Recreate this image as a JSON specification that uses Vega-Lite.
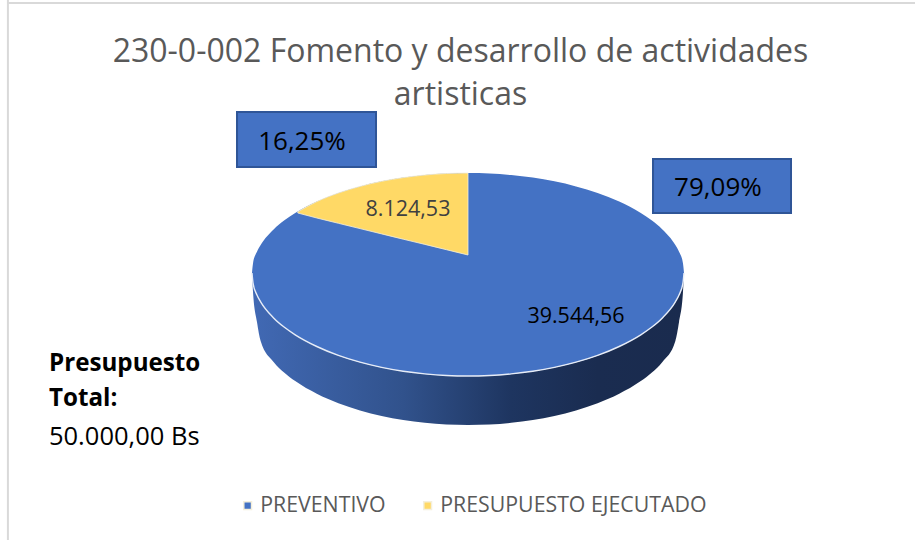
{
"$schema":"https://vega.github.io/schema/vega-lite/v6.json",
"width":915,"height":540,"padding":0,"autosize":{"type":"none"},
"background":"white",
"title":{"text":["230-0-002 Fomento y desarrollo de actividades","artisticas"],"anchor":"middle","dx":3,"offset":-113,"fontSize":32,"font":"Open Sans","fontWeight":"normal","color":"#595959","lineHeight":43},
"config":{"view":{"stroke":null}},
"datasets":{
"marco":[{"elemento":"marco"}],
"perfil":[
{"segmento":"PREVENTIVO","u":-1,"sup":0,"rim":0,"base":0},
{"segmento":"PREVENTIVO","u":-0.995,"sup":0.1,"rim":-0.103,"base":-0.2},
{"segmento":"PREVENTIVO","u":-0.977,"sup":0.213,"rim":-0.22,"base":-0.49},
{"segmento":"PREVENTIVO","u":-0.96,"sup":0.28,"rim":-0.288,"base":-0.68},
{"segmento":"PREVENTIVO","u":-0.9,"sup":0.436,"rim":-0.449,"base":-0.89},
{"segmento":"PREVENTIVO","u":-0.85,"sup":0.527,"rim":-0.543,"base":-0.998},
{"segmento":"PREVENTIVO","u":-0.8,"sup":0.6,"rim":-0.618,"base":-1.081},
{"segmento":"PREVENTIVO","u":-0.7,"sup":0.714,"rim":-0.735,"base":-1.208},
{"segmento":"PREVENTIVO","u":-0.6,"sup":0.8,"rim":-0.824,"base":-1.303},
{"segmento":"PREVENTIVO","u":-0.5,"sup":0.866,"rim":-0.892,"base":-1.375},
{"segmento":"PREVENTIVO","u":-0.4,"sup":0.917,"rim":-0.944,"base":-1.43},
{"segmento":"PREVENTIVO","u":-0.3,"sup":0.954,"rim":-0.983,"base":-1.47},
{"segmento":"PREVENTIVO","u":-0.2,"sup":0.98,"rim":-1.009,"base":-1.498},
{"segmento":"PREVENTIVO","u":-0.1,"sup":0.995,"rim":-1.025,"base":-1.515},
{"segmento":"PREVENTIVO","u":0,"sup":1,"rim":-1.03,"base":-1.52},
{"segmento":"PREVENTIVO","u":0.1,"sup":0.995,"rim":-1.025,"base":-1.515},
{"segmento":"PREVENTIVO","u":0.2,"sup":0.98,"rim":-1.009,"base":-1.498},
{"segmento":"PREVENTIVO","u":0.3,"sup":0.954,"rim":-0.983,"base":-1.47},
{"segmento":"PREVENTIVO","u":0.4,"sup":0.917,"rim":-0.944,"base":-1.43},
{"segmento":"PREVENTIVO","u":0.5,"sup":0.866,"rim":-0.892,"base":-1.375},
{"segmento":"PREVENTIVO","u":0.6,"sup":0.8,"rim":-0.824,"base":-1.303},
{"segmento":"PREVENTIVO","u":0.7,"sup":0.714,"rim":-0.735,"base":-1.208},
{"segmento":"PREVENTIVO","u":0.8,"sup":0.6,"rim":-0.618,"base":-1.081},
{"segmento":"PREVENTIVO","u":0.85,"sup":0.527,"rim":-0.543,"base":-0.998},
{"segmento":"PREVENTIVO","u":0.9,"sup":0.436,"rim":-0.449,"base":-0.89},
{"segmento":"PREVENTIVO","u":0.96,"sup":0.28,"rim":-0.288,"base":-0.68},
{"segmento":"PREVENTIVO","u":0.977,"sup":0.213,"rim":-0.22,"base":-0.49},
{"segmento":"PREVENTIVO","u":0.995,"sup":0.1,"rim":-0.103,"base":-0.2},
{"segmento":"PREVENTIVO","u":1,"sup":0,"rim":0,"base":0}
],
"cuna":[
{"segmento":"PRESUPUESTO EJECUTADO","u":-0.788,"sup":0.612,"inf":0.6},
{"segmento":"PRESUPUESTO EJECUTADO","u":-0.7,"sup":0.714,"inf":0.55},
{"segmento":"PRESUPUESTO EJECUTADO","u":-0.6,"sup":0.8,"inf":0.497},
{"segmento":"PRESUPUESTO EJECUTADO","u":-0.5,"sup":0.866,"inf":0.444},
{"segmento":"PRESUPUESTO EJECUTADO","u":-0.4,"sup":0.917,"inf":0.391},
{"segmento":"PRESUPUESTO EJECUTADO","u":-0.3,"sup":0.954,"inf":0.338},
{"segmento":"PRESUPUESTO EJECUTADO","u":-0.2,"sup":0.98,"inf":0.286},
{"segmento":"PRESUPUESTO EJECUTADO","u":-0.1,"sup":0.995,"inf":0.233},
{"segmento":"PRESUPUESTO EJECUTADO","u":0,"sup":1,"inf":0.18}
]
},
"encoding":{},
"layer":[
{"data":{"name":"marco"},"mark":{"type":"rule","color":"#d9d9d9","strokeWidth":2},
 "encoding":{"x":{"datum":-2.13,"type":"quantitative","scale":{"domain":[-2.16667,2.06944],"range":[0,915],"nice":false,"zero":false},"axis":null},"y":{"datum":2.73,"type":"quantitative","scale":{"domain":[-2.67,2.73],"range":[540,0],"nice":false,"zero":false},"axis":null},"y2":{"datum":-2.67}}},
{"data":{"name":"marco"},"mark":{"type":"rule","color":"#d9d9d9","strokeWidth":2},
 "encoding":{"y":{"datum":2.7,"type":"quantitative"},"x":{"datum":-2.13,"type":"quantitative"},"x2":{"datum":2.06944}}},
{"data":{"name":"perfil"},
 "mark":{"type":"area","interpolate":"monotone","color":{"gradient":"linear","x1":0,"y1":0,"x2":1,"y2":0,"stops":[{"offset":0,"color":"#4169b4"},{"offset":0.35,"color":"#31528c"},{"offset":0.6,"color":"#1e3560"},{"offset":0.8,"color":"#1a2c50"},{"offset":1,"color":"#1a2b4e"}]}},
 "encoding":{"x":{"field":"u","type":"quantitative"},"y":{"field":"rim","type":"quantitative"},"y2":{"field":"base"}}},
{"data":{"name":"perfil"},
 "mark":{"type":"area","interpolate":"monotone"},
 "encoding":{"x":{"field":"u","type":"quantitative"},"y":{"field":"sup","type":"quantitative"},"y2":{"field":"rim"},
  "color":{"field":"segmento","type":"nominal","scale":{"domain":["PREVENTIVO","PRESUPUESTO EJECUTADO"],"range":["#4472c4","#ffd966"]},
   "legend":{"title":null,"orient":"none","legendX":237,"legendY":495,"direction":"horizontal","symbolType":"square","symbolSize":60,"labelFont":"Open Sans","labelFontSize":21.3,"labelColor":"#595959","columnPadding":31,"labelLimit":400,"labelOffset":2}}}},
{"data":{"name":"perfil"},
 "mark":{"type":"line","interpolate":"monotone","color":"#e6ecf7","strokeWidth":1.4},
 "encoding":{"x":{"field":"u","type":"quantitative"},"y":{"field":"rim","type":"quantitative"}}},
{"data":{"name":"cuna"},
 "mark":{"type":"area","interpolate":"monotone","stroke":"#f4efdc","strokeWidth":0.8},
 "encoding":{"x":{"field":"u","type":"quantitative"},"y":{"field":"sup","type":"quantitative"},"y2":{"field":"inf"},
  "color":{"field":"segmento","type":"nominal"}}},
{"data":{"values":[{"segmento":"PRESUPUESTO EJECUTADO","porcentaje":"16,25%"}]},"mark":{"type":"rect","fill":"#4472c4","stroke":"#2f5597","strokeWidth":2},
 "encoding":{"x":{"datum":-1.0694,"type":"quantitative"},"x2":{"datum":-0.4259},"y":{"datum":1.61,"type":"quantitative"},"y2":{"datum":1.06}}},
{"data":{"values":[{"segmento":"PREVENTIVO","porcentaje":"79,09%"}]},"mark":{"type":"rect","fill":"#4472c4","stroke":"#2f5597","strokeWidth":2},
 "encoding":{"x":{"datum":0.8565,"type":"quantitative"},"x2":{"datum":1.4954},"y":{"datum":1.14,"type":"quantitative"},"y2":{"datum":0.6}}},
{"data":{"values":[{"segmento":"PRESUPUESTO EJECUTADO","porcentaje":"16,25%"}]},
 "mark":{"type":"text","font":"Open Sans","fontSize":26,"color":"#000000"},
 "encoding":{"x":{"datum":-0.7685,"type":"quantitative"},"y":{"datum":1.31,"type":"quantitative"},"text":{"field":"porcentaje"}}},
{"data":{"values":[{"segmento":"PREVENTIVO","porcentaje":"79,09%"}]},
 "mark":{"type":"text","font":"Open Sans","fontSize":26,"color":"#000000"},
 "encoding":{"x":{"datum":1.157,"type":"quantitative"},"y":{"datum":0.85,"type":"quantitative"},"text":{"field":"porcentaje"}}},
{"data":{"values":[{"segmento":"PRESUPUESTO EJECUTADO","importe":"8.124,53"}]},
 "mark":{"type":"text","font":"Open Sans","fontSize":21.5,"color":"#404040"},
 "encoding":{"x":{"datum":-0.278,"type":"quantitative"},"y":{"datum":0.63,"type":"quantitative"},"text":{"field":"importe"}}},
{"data":{"values":[{"segmento":"PREVENTIVO","importe":"39.544,56"}]},
 "mark":{"type":"text","font":"Open Sans","fontSize":21.5,"color":"#000000"},
 "encoding":{"x":{"datum":0.5,"type":"quantitative"},"y":{"datum":-0.44,"type":"quantitative"},"text":{"field":"importe"}}},
{"data":{"values":[{"linea":"Presupuesto Total:"}]},"mark":{"type":"text","text":["Presupuesto","Total:"],"lineHeight":35,"align":"left","baseline":"top","font":"Open Sans","fontSize":24.2,"fontWeight":"bold","color":"#000000"},
 "encoding":{"x":{"datum":-1.94,"type":"quantitative"},"y":{"datum":-0.79,"type":"quantitative"}}},
{"data":{"values":[{"linea":"50.000,00 Bs"}]},"mark":{"type":"text","align":"left","baseline":"middle","font":"Open Sans","fontSize":25.5,"color":"#000000"},
 "encoding":{"x":{"datum":-1.94,"type":"quantitative"},"y":{"datum":-1.64,"type":"quantitative"},"text":{"field":"linea"}}}
]
}
